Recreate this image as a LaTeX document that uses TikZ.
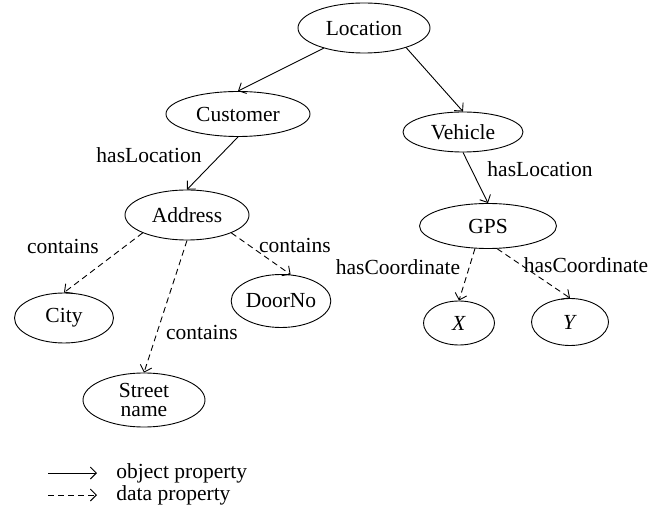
\documentclass[tikz,border=0pt]{standalone}
\usepackage{fontspec}
\setmainfont{Liberation Serif}
\usetikzlibrary{arrows.meta}
\usetikzlibrary{shapes.geometric}
\usetikzlibrary{positioning}

\begin{document}
\begin{tikzpicture}[x=1pt, y=-1pt, ->, >={Straight Barb[length=6pt,width=12pt]}, line width=0.9pt, font=\fontsize{21.5}{19.5}\selectfont]
	\tikzstyle{cls}=[draw, -, ellipse, inner sep=0pt]
	\tikzstyle{dataprop}=[dash pattern=on 6pt off 4pt]
	\useasboundingbox (0,0) rectangle (661,518);

	\node[cls, minimum width=132pt, minimum height=50pt] (loc) at (364,28) {Location};
	\node[cls, minimum width=144pt, minimum height=45pt] (cust) at (238,114) {Customer};
	\node[cls, minimum width=120pt, minimum height=40pt] (veh) at (463,132) {Vehicle};
	\node[cls, minimum width=124pt, minimum height=50pt] (addr) at (187,215) {Address};
	\node[cls, minimum width=137pt, minimum height=45pt] (gps) at (488,226) {GPS};
	\node[cls, minimum width=99pt, minimum height=50pt] (city) at (64,318) {City};
	\node[cls, minimum width=98pt, minimum height=53pt] (door) at (281,301) {DoorNo};
	\node[cls, minimum width=122pt, minimum height=54pt, align=center] (street) at (144,400) {Street\\name};
	\node[cls, minimum width=71pt, minimum height=44pt] (x) at (459,323) {\textit{X}};
	\node[cls, minimum width=77pt, minimum height=47pt] (y) at (570,322) {\textit{Y}};

	\node (l1) at (149,155) {hasLocation};
	\node (l2) at (540,169) {hasLocation};
	\node (l3) at (63,246) {contains};
	\node (l4) at (295,245) {contains};
	\node (l5) at (202,332) {contains};
	\node (l6) at (398,267) {hasCoordinate};
	\node (l7) at (586,265) {hasCoordinate};

	\path
		(loc) edge (cust.north)
		(loc.-25) edge (veh.north)
		(cust.south) edge (addr.north)
		(veh.south) edge (gps.north);
	\path[dataprop]
		(addr.-158) edge (city.north)
		(addr.south) edge (street.north)
		(addr.-22) edge (door.70)
		(gps.-120) edge (x.north)
		(gps.-68) edge (y.north);

	% legend
	\coordinate (op1) at (48,473);
	\coordinate (op2) at (97,473);
	\coordinate (dp1) at (48,495);
	\coordinate (dp2) at (97,495);
	\draw (op1) -- (op2);
	\draw[dataprop] (dp1) -- (dp2);
	\node[anchor=west, inner sep=0pt] (optext) at (116,473) {object property};
	\node[anchor=west, inner sep=0pt] (dptext) at (116,495) {data property};
\end{tikzpicture}
\end{document}
